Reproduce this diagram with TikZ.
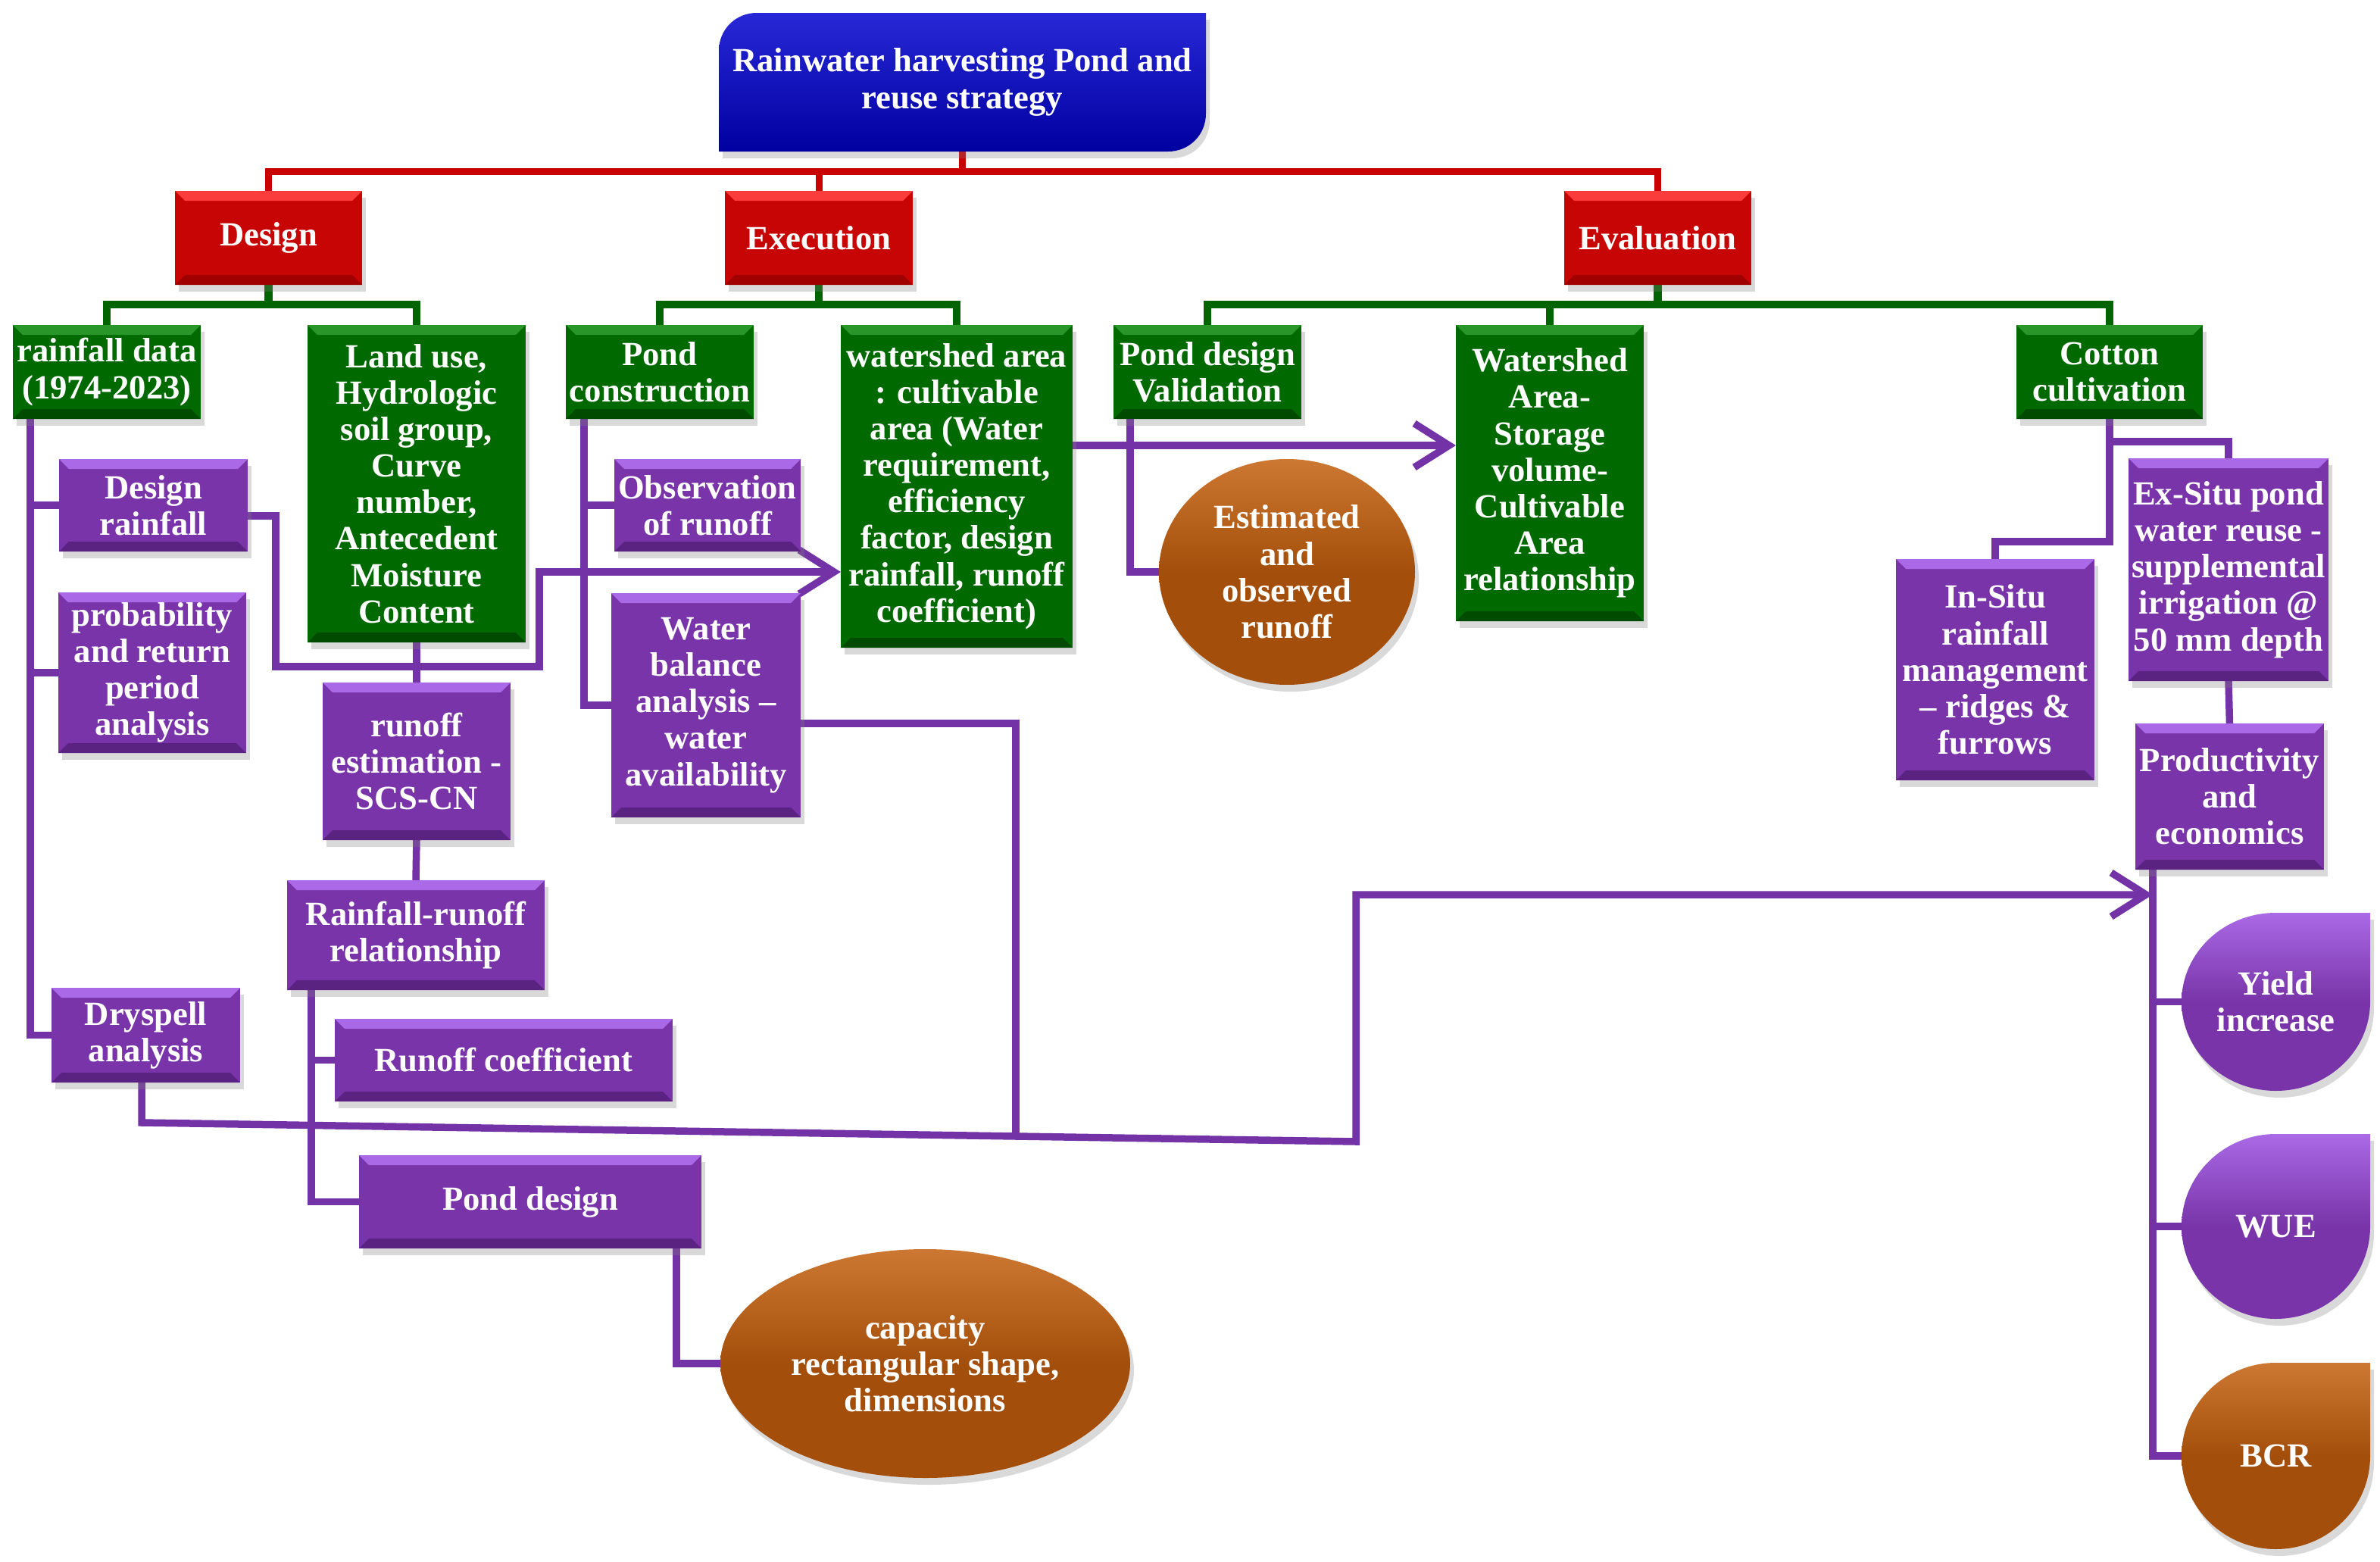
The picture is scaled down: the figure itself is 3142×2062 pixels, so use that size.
\documentclass[tikz,border=0pt]{standalone}
\usepackage{fontspec}
\setmainfont{Liberation Serif}
\usetikzlibrary{arrows.meta,shadows,shapes.geometric,calc}
\definecolor{bM}{RGB}{0,0,160}
\definecolor{bL}{RGB}{40,40,215}
\definecolor{rM}{RGB}{200,5,5}
\definecolor{rL}{RGB}{250,60,60}
\definecolor{rD}{RGB}{160,0,0}
\definecolor{gM}{RGB}{0,105,0}
\definecolor{gL}{RGB}{40,150,40}
\definecolor{gD}{RGB}{0,75,0}
\definecolor{pM}{RGB}{120,52,168}
\definecolor{pL}{RGB}{170,105,230}
\definecolor{pD}{RGB}{90,35,130}
\definecolor{oM}{RGB}{163,78,10}
\definecolor{oL}{RGB}{205,120,50}
\definecolor{redln}{RGB}{200,0,0}
\definecolor{grnln}{RGB}{0,100,0}
\definecolor{purln}{RGB}{115,50,165}
\pgfdeclarelayer{bg}\pgfsetlayers{bg,main}
\newcommand\BX[7]{%
 \pgfmathsetmacro\BXcx{(#3+#5)/2}%
 \pgfmathsetmacro\BXcy{(#4+#6)/2}%
 \pgfmathsetmacro\BXw{(#5-#3)/10}%
 \pgfmathsetmacro\BXh{(#6-#4)/10}%
 \node[#1,minimum width=\BXw mm,minimum height=\BXh mm] (#2) at (\BXcx,\BXcy) {#7};}
\newcommand\LEAF[7]{%
 \pgfmathsetmacro\LFcx{(#3+#5)/2}%
 \pgfmathsetmacro\LFcy{(#4+#6)/2}%
 \pgfmathsetmacro\LFkx{(#5-#3)/2*0.5523}%
 \pgfmathsetmacro\LFky{(#6-#4)/2*0.5523}%
 \path[#1] (#5,#4) -- (#5,\LFcy) .. controls (#5,\LFcy+\LFky) and (\LFcx+\LFkx,#6) .. (\LFcx,#6) .. controls (\LFcx-\LFkx,#6) and (#3,\LFcy+\LFky) .. (#3,\LFcy) .. controls (#3,\LFcy-\LFky) and (\LFcx-\LFkx,#4) .. (\LFcx,#4) -- cycle;
 \BX{txt}{#2}{#3}{#4}{#5}{#6}{#7}}
\tikzset{
 bev/.style n args={3}{fill=#1, path picture={%
   \coordinate (bvA) at (path picture bounding box.north west);
   \coordinate (bvB) at (path picture bounding box.south east);
   \coordinate (bvC) at (bvA -| bvB);
   \coordinate (bvD) at (bvA |- bvB);
   \fill[#2] (bvA) -- (bvC) -- ([shift={(-1.3mm,-1.3mm)}]bvC) -- ([shift={(1.3mm,-1.3mm)}]bvA) -- cycle;
   \fill[#3] (bvD) -- (bvB) -- ([shift={(-1.3mm,1.3mm)}]bvB) -- ([shift={(1.3mm,1.3mm)}]bvD) -- cycle;
 }},
 shd/.style={drop shadow={shadow xshift=0.5mm,shadow yshift=-0.9mm,opacity=0.3}},
 txt/.style={inner sep=0pt, outer sep=0pt, align=center, text=white, font=\bfseries\fontsize{12.7}{13.7}\selectfont},
 base/.style={txt, shd},
 rbox/.style={base, bev={rM}{rL}{rD}},
 gbox/.style={base, bev={gM}{gL}{gD}},
 pbox/.style={base, bev={pM}{pL}{pD}},
 obox/.style={base, ellipse, top color=oL, bottom color=oM, middle color=oM},
 leafP/.style={shd, top color=pL, bottom color=pM, middle color=pM},
 leafO/.style={shd, top color=oL, bottom color=oM, middle color=oM},
 rl/.style={draw=redln, line width=0.9mm},
 gl/.style={draw=grnln, line width=1.05mm},
 pl/.style={draw=purln, line width=0.95mm},
 arr/.style={-{Straight Barb[length=4.6mm,width=5.8mm]}}
}
\begin{document}
\begin{tikzpicture}[x=0.1mm,y=-0.1mm]
\useasboundingbox (0,0) rectangle (3142,2062);
% top box
\path[shd, top color=bL, bottom color=bM] (949,200) -- (949,67) .. controls (949,39) and (971,17) .. (999,17) -- (1592,17) -- (1592,150) .. controls (1592,178) and (1570,200) .. (1542,200) -- cycle;
\BX{txt}{top}{949}{17}{1592}{200}{Rainwater harvesting Pond and\\reuse strategy}
% red level
\BX{rbox}{des}{231}{252}{478}{376}{Design}
\BX{rbox}{exe}{957}{252}{1205}{376}{Execution}
\BX{rbox}{eva}{2065}{252}{2312}{376}{Evaluation}
% green level
\BX{gbox}{rain}{17}{429}{265}{553}{rainfall data\\(1974-2023)}
\BX{gbox}{land}{406}{429}{694}{848}{Land use,\\Hydrologic\\soil group,\\Curve\\number,\\Antecedent\\Moisture\\Content}
\BX{gbox}{pcon}{747}{429}{995}{553}{Pond\\construction}
\BX{gbox}{wsa}{1110}{429}{1416}{855}{watershed area\\: cultivable\\area (Water\\requirement,\\efficiency\\factor, design\\rainfall, runoff\\coefficient)}
\BX{gbox}{pdv}{1470}{429}{1718}{553}{Pond design\\Validation}
\BX{gbox}{wsb}{1922}{429}{2170}{820}{Watershed\\Area-\\Storage\\volume-\\Cultivable\\Area\\relationship}
\BX{gbox}{cot}{2662}{429}{2908}{553}{Cotton\\cultivation}
% purple boxes
\BX{pbox}{dr}{78}{606}{327}{728}{Design\\rainfall}
\BX{pbox}{prob}{77}{782}{325}{994}{probability\\and return\\period\\analysis}
\BX{pbox}{roe}{426}{901}{674}{1109}{runoff\\estimation -\\SCS-CN}
\BX{pbox}{rr}{379}{1162}{719}{1307}{Rainfall-runoff\\relationship}
\BX{pbox}{dry}{68}{1304}{317}{1429}{Dryspell\\analysis}
\BX{pbox}{rc}{442}{1345}{888}{1454}{Runoff coefficient}
\BX{pbox}{pd}{474}{1525}{926}{1648}{Pond design}
\BX{pbox}{obs}{811}{606}{1057}{728}{Observation\\of runoff}
\BX{pbox}{wb}{807}{783}{1057}{1079}{Water\\balance\\analysis –\\water\\availability}
\BX{pbox}{ins}{2503}{738}{2765}{1030}{In-Situ\\rainfall\\management\\– ridges \&\\furrows}
\BX{pbox}{exs}{2810}{605}{3074}{899}{Ex-Situ pond\\water reuse -\\supplemental\\irrigation @\\50 mm depth}
\BX{pbox}{prod}{2819}{955}{3068}{1148}{Productivity\\and\\economics}
% ellipses
\BX{obox}{est}{1530}{606}{1868}{904}{Estimated\\and\\observed\\runoff}
\BX{obox}{cap}{951}{1649}{1492}{1951}{capacity\\rectangular shape,\\dimensions}
% leaves
\LEAF{leafP}{yld}{2880}{1205}{3129}{1440}{Yield\\increase}
\LEAF{leafP}{wue}{2880}{1497}{3129}{1741}{WUE}
\LEAF{leafO}{bcr}{2880}{1799}{3129}{2045}{BCR}
% connectors
\begin{pgfonlayer}{bg}
\draw[rl] (top.south) -- ++(0,26) coordinate (rj);
\draw[rl] (des.north) |- (rj) -| (eva.north);
\draw[rl] (exe.north) -- (exe.north |- rj);
\draw[gl] (des.south) -- ++(0,26) coordinate (gd);
\draw[gl] (rain.north) |- (gd) -| (land.north);
\draw[gl] (exe.south) -- ++(0,26) coordinate (ge);
\draw[gl] (pcon.north) |- (ge) -| (wsa.north);
\draw[gl] (eva.south) -- ++(0,26) coordinate (gv);
\draw[gl] (pdv.north) |- (gv) -| (cot.north);
\draw[gl] (wsb.north) -- (wsb.north |- gv);
% purple
\draw[pl] ([xshift=2.3mm]rain.south west) coordinate (rv) |- (dry.west);
\draw[pl] (dr.west) -- (dr.west -| rv);
\draw[pl] (prob.west) -- (prob.west -| rv);
\coordinate (cA) at (712,755);
\draw[pl,arr] ([yshift=-1.4mm]dr.east) -| (364,880) -| (cA) -- (cA -| wsa.west);
\draw[pl] (land.south) -- (roe.north);
\draw[pl] (roe.south) -- (rr.north);
\draw[pl] ([xshift=3.2mm]rr.south west) coordinate (rv2) |- (pd.west);
\draw[pl] (rc.west) -- (rc.west -| rv2);
\draw[pl] ([xshift=-3.3mm]pd.south east) |- (cap.west);
\draw[pl] ([xshift=2.4mm]pcon.south west) coordinate (pv1) |- (wb.west);
\draw[pl] (obs.west) -- (obs.west -| pv1);
\draw[pl] ([xshift=2.2mm]pdv.south west) |- (est.west);
\draw[pl,arr] ([yshift=5.4mm]wsa.east) coordinate (cB) -- (cB -| wsb.west);
\draw[pl] (cot.south) -- ++(0,162) -| (ins.north);
\draw[pl] ($(cot.south)+(0,30)$) -| (exs.north);
\draw[pl] (exs.south) -- (prod.north);
\draw[pl] ([xshift=2.3mm]prod.south west) coordinate (pv3) |- (bcr.west);
\draw[pl] (yld.west) -- (yld.west -| pv3);
\draw[pl] (wue.west) -- (wue.west -| pv3);
\coordinate (s1) at (187,1482);
\coordinate (s2) at (1790,1507);
\coordinate (s3) at (1790,1181);
\draw[pl,arr] (dry.south -| s1) -- (s1) -- (s2) -- (s3) -- (s3 -| pv3);
\draw[pl] ([yshift=-2.4mm]wb.east) -| (1341,1500);
\end{pgfonlayer}
\end{tikzpicture}
\end{document}
